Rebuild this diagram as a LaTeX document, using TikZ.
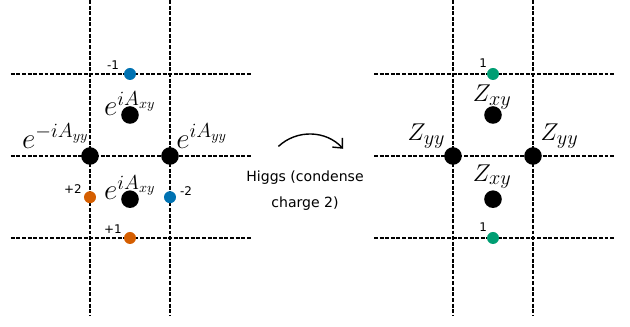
\documentclass[tikz,border=0pt]{standalone}
\usepackage{fontspec}
\newfontfamily\labelfont{DejaVu Sans}
\usetikzlibrary{arrows.meta}
\DeclareMathSizes{17.28}{17.28}{14.4}{12}
\tikzset{%
  point/.style={circle,inner sep=0pt,minimum size=3mm,fill=#1},
  point/.default=black,
  site/.style={circle,inner sep=0pt,minimum size=4.4mm,fill=black},
  gridline/.style={line width=1.35pt,dash pattern=on 2.8pt off 1.2pt},
  charge/.style={font=\labelfont\fontsize{8.5}{10}\selectfont,inner sep=0pt},
  phase/.style={font=\fontsize{20}{24}\selectfont,inner sep=0pt},
  higgs/.style={font=\fontsize{17.28}{20}\selectfont,inner sep=0pt}
}
\definecolor{c0}{HTML}{0072B2}
\definecolor{c1}{HTML}{D55E00}
\definecolor{c2}{HTML}{009E73}

\begin{document}
\begin{tikzpicture}
  \useasboundingbox (-3.25,-4.275) rectangle (12.5,3.9);
  \coordinate (p0) at (-1,3.9);
  \coordinate (p1) at (-1,-4);
  \coordinate (p2) at (1,3.9);
  \coordinate (p3) at (1,-4);
  \coordinate (p4) at (-2.98,2.05);
  \coordinate (p5) at (3.02,2.05);
  \coordinate (p6) at (-2.98,0);
  \coordinate (p7) at (3.02,0);
  \coordinate (p8) at (-2.98,-2.05);
  \coordinate (p9) at (3.02,-2.05);
  \draw[gridline] (p0)--(p1);
  \draw[gridline] (p2)--(p3);
  \draw[gridline] (p4)--(p5);
  \draw[gridline] (p6)--(p7);
  \draw[gridline] (p8)--(p9);
  \node[site] (n0) at (-1,0) {};
  \node[site] (n1) at (1,0) {};
  \node[site] (n2) at (0,1.025) {};
  \node[site] (n3) at (0,-1.08) {};
  \node[point=c0] (r0) at (0,2.05) {};
  \node[point=c0] (r1) at (1,-1.03) {};
  \node[point=c1] (r2) at (-1,-1.03) {};
  \node[point=c1] (r3) at (0,-2.05) {};
  \node[charge] (l0) at (-0.425,2.275) {-1};
  \node[charge] (l1) at (1.4,-0.875) {-2};
  \node[charge] (l2) at (-1.425,-0.825) {+2};
  \node[charge] (l3) at (-0.425,-1.825) {+1};
  \node[phase] (e0) at (0,1.31) {$e^{iA_{xy}}$};
  \node[phase] (e1) at (0,-0.79) {$e^{iA_{xy}}$};
  \node[phase] (e2) at (-1.86,0.5) {$e^{-iA_{yy}}$};
  \node[phase] (e3) at (1.8,0.5) {$e^{iA_{yy}}$};
  %%%
  \coordinate (h0) at (3.71,0.24);
  \coordinate (h1) at (5.33,0.18);
  \draw[line width=1pt,-{Straight Barb[length=1.9mm,width=3.4mm]}] (h0) to[bend left=45] (h1);
  \node[align=center,font=\labelfont\fontsize{10}{18.5}\selectfont] (t0) at (4.375,-0.86) {Higgs (condense\\charge 2)};
  %%%
  \coordinate (q0) at (8.075,3.9);
  \coordinate (q1) at (8.075,-4);
  \coordinate (q2) at (10.075,3.9);
  \coordinate (q3) at (10.075,-4);
  \coordinate (q4) at (6.1,2.05);
  \coordinate (q5) at (12.1,2.05);
  \coordinate (q6) at (6.1,0);
  \coordinate (q7) at (12.1,0);
  \coordinate (q8) at (6.1,-2.05);
  \coordinate (q9) at (12.1,-2.05);
  \draw[gridline] (q0)--(q1);
  \draw[gridline] (q2)--(q3);
  \draw[gridline] (q4)--(q5);
  \draw[gridline] (q6)--(q7);
  \draw[gridline] (q8)--(q9);
  \node[site] (m0) at (8.075,0) {};
  \node[site] (m1) at (10.075,0) {};
  \node[site] (m2) at (9.075,1.025) {};
  \node[site] (m3) at (9.075,-1.08) {};
  \node[point=c2] (s0) at (9.075,2.05) {};
  \node[point=c2] (s1) at (9.075,-2.05) {};
  \node[charge] (k0) at (8.83,2.325) {1};
  \node[charge] (k1) at (8.83,-1.77) {1};
  \node[higgs] (z0) at (9.055,1.475) {$Z_{xy}$};
  \node[higgs] (z1) at (9.055,-0.52) {$Z_{xy}$};
  \node[higgs] (z2) at (7.41,0.49) {$Z_{yy}$};
  \node[higgs] (z3) at (10.74,0.49) {$Z_{yy}$};
\end{tikzpicture}
\end{document}
